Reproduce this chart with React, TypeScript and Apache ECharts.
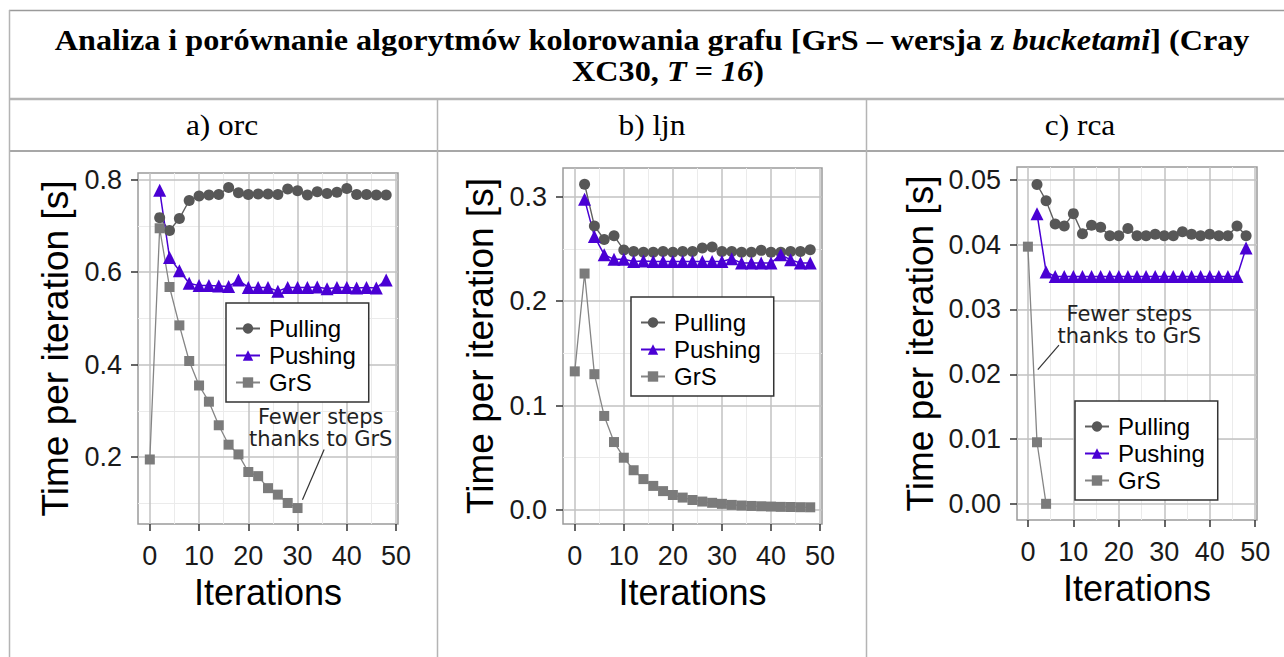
import React, { useEffect, useRef } from 'react';
import * as echarts from 'echarts';

// ---------- data ----------
const iterationsGrS = [0, 2, 4, 6, 8, 10, 12, 14, 16, 18, 20, 22, 24, 26, 28, 30, 32, 34, 36, 38, 40, 42, 44, 46, 48];
const iterationsPull = [2, 4, 6, 8, 10, 12, 14, 16, 18, 20, 22, 24, 26, 28, 30, 32, 34, 36, 38, 40, 42, 44, 46, 48];

const xTickValues = [0, 10, 20, 30, 40, 50];
const yTicksOrc = [0.2, 0.4, 0.6, 0.8];
const yTicksLjn = [0.0, 0.1, 0.2, 0.3];
const yTicksRca = [0.0, 0.01, 0.02, 0.03, 0.04, 0.05];

const seriesNames = ['Pulling', 'Pushing', 'GrS'];
const panelLabels = ['a) orc', 'b) ljn', 'c) rca'];
const titleLine1 = ['Analiza i porównanie algorytmów kolorowania grafu [GrS – wersja z ', 'bucketami', '] (Cray'];
const titleLine2 = ['XC30, ', 'T = 16', ')'];
const xAxisTitle = 'Iterations';
const yAxisTitle = 'Time per iteration [s]';
const noteText = 'Fewer steps\nthanks to GrS';

// a) orc
const pullingOrc = [0.718, 0.69, 0.716, 0.755, 0.765, 0.767, 0.768, 0.783, 0.772, 0.768, 0.769, 0.769, 0.768, 0.78, 0.776, 0.767, 0.774, 0.77, 0.773, 0.781, 0.768, 0.768, 0.767, 0.767];
const pushingOrc = [0.777, 0.632, 0.603, 0.576, 0.571, 0.571, 0.57, 0.569, 0.583, 0.567, 0.567, 0.567, 0.559, 0.567, 0.567, 0.567, 0.568, 0.564, 0.567, 0.567, 0.566, 0.567, 0.566, 0.583];
const grsOrc = [0.195, 0.695, 0.568, 0.485, 0.408, 0.355, 0.32, 0.269, 0.227, 0.206, 0.168, 0.159, 0.133, 0.119, 0.101, 0.09];

// b) ljn
const pullingLjn = [0.312, 0.272, 0.259, 0.2625, 0.249, 0.2476, 0.2467, 0.2467, 0.2476, 0.2467, 0.2476, 0.2476, 0.2508, 0.2518, 0.2476, 0.2476, 0.2467, 0.2467, 0.2486, 0.2467, 0.2467, 0.2476, 0.2476, 0.2492];
const pushingLjn = [0.2975, 0.262, 0.2445, 0.24, 0.24, 0.238, 0.2385, 0.238, 0.238, 0.238, 0.238, 0.238, 0.238, 0.238, 0.238, 0.2405, 0.2365, 0.2365, 0.2365, 0.2365, 0.2445, 0.2395, 0.2365, 0.2365];
const grsLjn = [0.1327, 0.2264, 0.13, 0.09, 0.065, 0.05, 0.038, 0.0295, 0.023, 0.018, 0.0143, 0.0118, 0.0095, 0.008, 0.0068, 0.0058, 0.0048, 0.0042, 0.0038, 0.0035, 0.0032, 0.0029, 0.0028, 0.0026, 0.0025];

// c) rca
const pullingRca = [0.0493, 0.0468, 0.0432, 0.0429, 0.0448, 0.0417, 0.043, 0.0427, 0.0414, 0.0414, 0.0425, 0.0414, 0.0414, 0.0416, 0.0414, 0.0414, 0.042, 0.0416, 0.0414, 0.0416, 0.0414, 0.0414, 0.0429, 0.0414];
const pushingRca = [0.0448, 0.0358, 0.0351, 0.0351, 0.0351, 0.0351, 0.0351, 0.0351, 0.0351, 0.0351, 0.0351, 0.0351, 0.0351, 0.0351, 0.0351, 0.0351, 0.0351, 0.0351, 0.0351, 0.0351, 0.0351, 0.0351, 0.0351, 0.0395];
const grsRca = [0.0397, 0.0095, 0.0];

// ---------- layout / style ----------
const SANS = 'Liberation Sans';
const SERIF = 'Liberation Serif';
const C_PULL = '#575757';
const C_PULL_LINE = '#5e5e5e';
const C_PUSH = '#4a00d4';
const C_GRS = '#7b7b7b';
const C_GRS_LINE = '#858585';

const panels = [
  {
    label: panelLabels[0], labelX: 222,
    grid: { left: 138, top: 173, width: 260, height: 351 },
    yMin: 0.0555, yMax: 0.8145, yTicks: yTicksOrc, decimals: 1, yNameGap: 64,
    legend: { left: 226, top: 303 },
    pulling: pullingOrc, pushing: pushingOrc, grs: grsOrc,
    note: { at: [34.7, 0.2635], from: [35.4, 0.2165], to: [31.0, 0.108] },
  },
  {
    label: panelLabels[1], labelX: 652,
    grid: { left: 563, top: 168, width: 259, height: 356 },
    yMin: -0.0135, yMax: 0.3275, yTicks: yTicksLjn, decimals: 1, yNameGap: 64,
    legend: { left: 631, top: 297 },
    pulling: pullingLjn, pushing: pushingLjn, grs: grsLjn,
    note: null,
  },
  {
    label: panelLabels[2], labelX: 1080,
    grid: { left: 1017, top: 167, width: 240, height: 353 },
    yMin: -0.0025, yMax: 0.052, yTicks: yTicksRca, decimals: 2, yNameGap: 78,
    legend: { left: 1075, top: 401 },
    pulling: pullingRca, pushing: pushingRca, grs: grsRca,
    note: { at: [22.3, 0.0276], from: [6.83, 0.0245], to: [2.18, 0.0207] },
  },
];

const X_MIN = -2.4;
const X_MAX = 50.4;

function minorOf(ticks: number[], lo: number, hi: number): number[] {
  const step = ticks[1] - ticks[0];
  const out: number[] = [];
  const cands = [ticks[0] - step / 2, ...ticks.map((t) => t + step / 2)];
  cands.forEach((v) => {
    if (v > lo && v < hi) out.push(+v.toFixed(6));
  });
  return out;
}

function buildOption() {
  const graphic: any[] = [];
  const lineEl = (x1: number, y1: number, x2: number, y2: number, stroke: string, w: number) => ({
    type: 'line', silent: true, z: -10,
    shape: { x1, y1, x2, y2 },
    style: { stroke, lineWidth: w },
  });
  graphic.push(lineEl(9, 10.5, 1284, 10.5, '#9a9a9a', 1.5));
  graphic.push(lineEl(9, 99, 1284, 99, '#b4b4b4', 2.5));
  graphic.push(lineEl(9, 151, 1284, 151, '#8a8a8a', 1.5));
  graphic.push(lineEl(9.5, 10, 9.5, 657, '#b4b4b4', 1.5));
  graphic.push(lineEl(437.5, 99, 437.5, 657, '#b4b4b4', 1.5));
  graphic.push(lineEl(866.5, 99, 866.5, 657, '#b4b4b4', 1.5));

  const TS = 29;
  const rich = {
    b: { fontFamily: SERIF, fontWeight: 'bold', fontSize: TS, fill: '#000' },
    bi: { fontFamily: SERIF, fontWeight: 'bold', fontStyle: 'italic', fontSize: TS, fill: '#000' },
  };
  graphic.push({
    type: 'text', x: 652, y: 41, scaleX: 1.11, silent: true,
    style: {
      text: `{b|${titleLine1[0]}}{bi|${titleLine1[1]}}{b|${titleLine1[2]}}`,
      rich, align: 'center', verticalAlign: 'middle', fontFamily: SERIF, fontSize: TS, fontWeight: 'bold',
    },
  });
  graphic.push({
    type: 'text', x: 668, y: 72, scaleX: 1.11, silent: true,
    style: {
      text: `{b|${titleLine2[0]}}{bi|${titleLine2[1]}}{b|${titleLine2[2]}}`,
      rich, align: 'center', verticalAlign: 'middle', fontFamily: SERIF, fontSize: TS, fontWeight: 'bold',
    },
  });
  panels.forEach((p) => {
    graphic.push({
      type: 'text', x: p.labelX, y: 125, scaleX: 1.08, silent: true,
      style: { text: p.label, fontFamily: SERIF, fontSize: 29, fill: '#000', align: 'center', verticalAlign: 'middle' },
    });
  });

  const grids: any[] = [];
  const xAxes: any[] = [];
  const yAxes: any[] = [];
  const legends: any[] = [];
  const series: any[] = [];

  panels.forEach((p, i) => {
    grids.push({
      ...p.grid, show: true, borderColor: '#9a9a9a', borderWidth: 1.5, backgroundColor: '#fff',
      containLabel: false, outerBoundsMode: 'none',
    });
    const tickStyle = { show: true, length: 7, lineStyle: { color: '#333', width: 1.5 } };
    xAxes.push({
      type: 'value', gridIndex: i, min: X_MIN, max: X_MAX,
      axisLine: { show: false, onZero: false },
      axisTick: { ...tickStyle, customValues: xTickValues },
      axisLabel: { customValues: xTickValues, margin: 18, fontSize: 27, fontFamily: SANS, color: '#1a1a1a' },
      splitLine: { show: false },
      name: xAxisTitle, nameLocation: 'middle', nameGap: 50,
      nameTextStyle: { fontSize: 36, fontFamily: SANS, color: '#000' },
    });
    yAxes.push({
      type: 'value', gridIndex: i, min: p.yMin, max: p.yMax,
      axisLine: { show: false, onZero: false },
      axisTick: { ...tickStyle, customValues: p.yTicks },
      axisLabel: {
        customValues: p.yTicks, margin: 16, fontSize: 27, fontFamily: SANS, color: '#1a1a1a',
        formatter: (v: number) => v.toFixed(p.decimals),
      },
      splitLine: { show: false },
      name: yAxisTitle, nameLocation: 'middle', nameRotate: 90, nameGap: p.yNameGap,
      nameTextStyle: { fontSize: 37, fontFamily: SANS, color: '#000' },
    });
    legends.push({
      data: seriesNames, orient: 'vertical', left: p.legend.left, top: p.legend.top,
      padding: [12, 13, 6, 9], itemGap: 0, itemWidth: 24, itemHeight: 13,
      borderColor: '#333', borderWidth: 1.5, backgroundColor: '#fff',
      selectedMode: false,
      textStyle: { fontSize: 24, fontFamily: SANS, color: '#000', lineHeight: 27, padding: [0, 0, 0, 4] },
    });

    // grid lines (major + minor) drawn through the axes' own scales
    const minorX = minorOf(xTickValues, X_MIN, X_MAX);
    const minorY = minorOf(p.yTicks, p.yMin, p.yMax);
    const minorStyle = { color: '#ebebeb', width: 1, type: 'solid' };
    const majorStyle = { color: '#c2c2c2', width: 1.5, type: 'solid' };
    series.push({
      type: 'line', xAxisIndex: i, yAxisIndex: i, data: [], silent: true,
      markLine: {
        silent: true, z: 1, symbol: ['none', 'none'], label: { show: false }, animation: false,
        emphasis: { disabled: true },
        data: [
          ...minorX.map((v) => ({ xAxis: v, lineStyle: minorStyle })),
          ...minorY.map((v) => ({ yAxis: v, lineStyle: minorStyle })),
          ...xTickValues.map((v) => ({ xAxis: v, lineStyle: majorStyle })),
          ...p.yTicks.map((v) => ({ yAxis: v, lineStyle: majorStyle })),
        ],
      },
    });

    series.push({
      type: 'line', name: seriesNames[0], xAxisIndex: i, yAxisIndex: i,
      data: iterationsPull.map((x, k) => [x, p.pulling[k]]),
      symbol: 'circle', symbolSize: 11, showSymbol: true, showAllSymbol: true,
      itemStyle: { color: C_PULL }, lineStyle: { color: C_PULL_LINE, width: 1.4 },
      emphasis: { disabled: true }, z: 3,
    });
    series.push({
      type: 'line', name: seriesNames[1], xAxisIndex: i, yAxisIndex: i,
      data: iterationsPull.map((x, k) => [x, p.pushing[k]]),
      symbol: 'triangle', symbolSize: 13, showSymbol: true, showAllSymbol: true,
      itemStyle: { color: C_PUSH }, lineStyle: { color: C_PUSH, width: 1.5 },
      emphasis: { disabled: true }, z: 3,
    });
    const grsSeries: any = {
      type: 'line', name: seriesNames[2], xAxisIndex: i, yAxisIndex: i,
      data: p.grs.map((y, k) => [iterationsGrS[k], y]),
      symbol: 'rect', symbolSize: 10, showSymbol: true, showAllSymbol: true,
      itemStyle: { color: C_GRS }, lineStyle: { color: C_GRS_LINE, width: 1.3 },
      emphasis: { disabled: true }, z: 3,
    };
    if (p.note) {
      grsSeries.markLine = {
        silent: true, z: 5, symbol: ['none', 'none'], label: { show: false }, animation: false,
        lineStyle: { color: '#333', width: 1.2, type: 'solid' },
        data: [[{ coord: p.note.from }, { coord: p.note.to }]],
      };
      grsSeries.markPoint = {
        silent: true, z: 5, animation: false,
        symbol: 'circle', symbolSize: 1, itemStyle: { color: 'rgba(0,0,0,0)' },
        label: {
          show: true, position: 'inside', formatter: noteText,
          fontFamily: 'DejaVu Sans', fontSize: 21, lineHeight: 21.5, color: '#222', align: 'center',
        },
        data: [{ coord: p.note.at }],
      };
    }
    series.push(grsSeries);
  });

  return {
    animation: false,
    backgroundColor: '#ffffff',
    graphic,
    grid: grids,
    xAxis: xAxes,
    yAxis: yAxes,
    legend: legends,
    series,
  };
}

export default function App() {
  const ref = useRef<HTMLDivElement>(null);
  useEffect(() => {
    if (!ref.current) return;
    const chart = echarts.init(ref.current, undefined, { renderer: 'svg' });
    chart.setOption(buildOption() as any);
    return () => chart.dispose();
  }, []);
  return (
    <div
      ref={ref}
      style={{ position: 'absolute', left: 0, top: 0, width: 1284, height: 657, background: '#fff' }}
    />
  );
}
